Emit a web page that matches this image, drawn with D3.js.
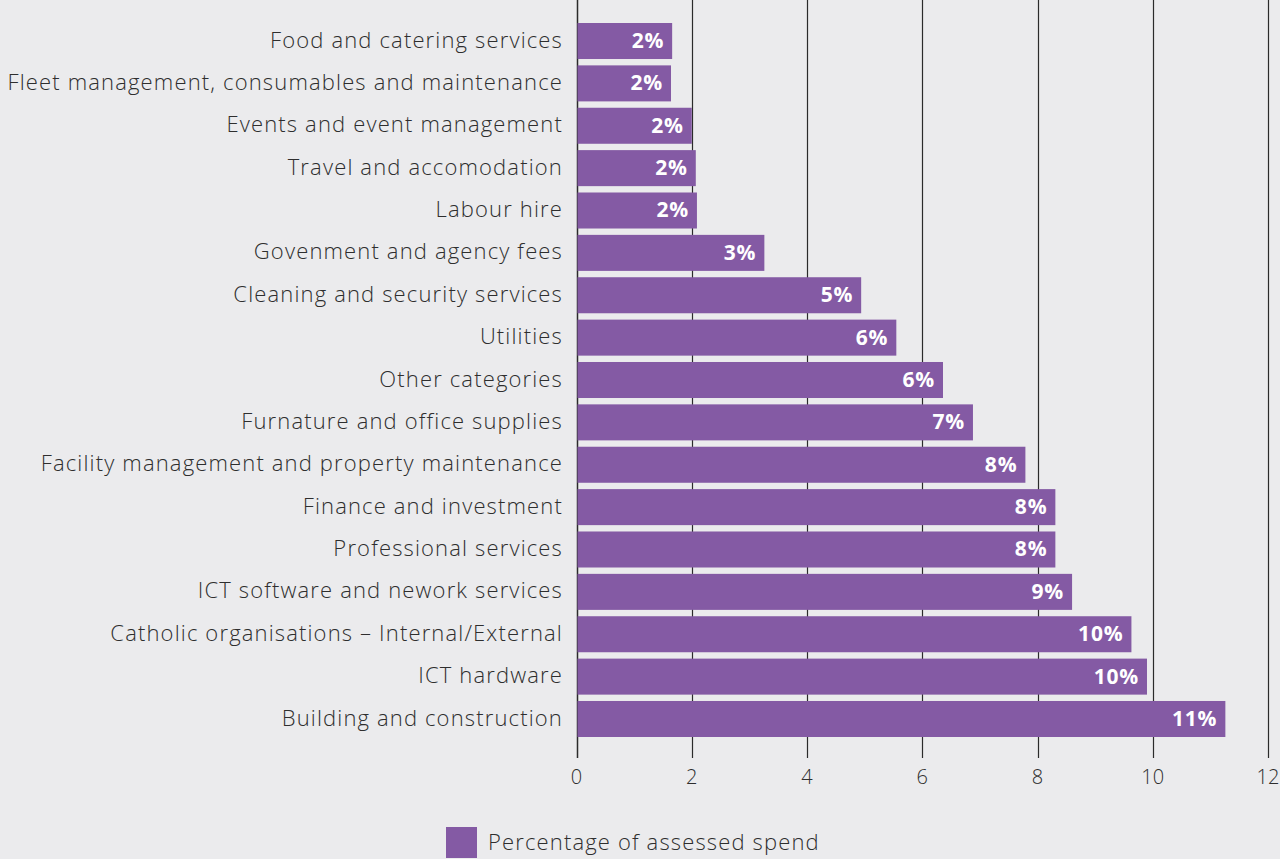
<!DOCTYPE html>
<html><head><meta charset="utf-8">
<script src="https://cdn.jsdelivr.net/npm/d3@7"></script>
<style>
html,body{margin:0;padding:0;background:#ebebed;}
svg{display:block;font-family:"Open Sans",Lato,sans-serif;}
</style></head>
<body>
<svg id="chart" width="1280" height="859"></svg>
<script>
const categories = [
  "Food and catering services",
  "Fleet management, consumables and maintenance",
  "Events and event management",
  "Travel and accomodation",
  "Labour hire",
  "Govenment and agency fees",
  "Cleaning and security services",
  "Utilities",
  "Other categories",
  "Furnature and office supplies",
  "Facility management and property maintenance",
  "Finance and investment",
  "Professional services",
  "ICT software and nework services",
  "Catholic organisations – Internal/External",
  "ICT hardware",
  "Building and construction"
];
const values = [1.66, 1.64, 2.0, 2.07, 2.09, 3.26, 4.94, 5.55, 6.36, 6.88, 7.79, 8.31, 8.31, 8.6, 9.63, 9.9, 11.26];
const valueLabels = ["2%","2%","2%","2%","2%","3%","5%","6%","6%","7%","8%","8%","8%","9%","10%","10%","11%"];
const xTicks = [0, 2, 4, 6, 8, 10, 12];
const seriesName = "Percentage of assessed spend";

const svg = d3.select("#chart");
const barColor = "#845aa4";
const textColor = "#2e2e2e";

const x = d3.scaleLinear().domain([0, 12]).range([576.5, 1268]);
const y = d3.scaleBand().domain(categories).range([23, 737]).paddingInner(0.15).paddingOuter(0);

// gridlines
svg.append("g").selectAll("line").data(xTicks).join("line")
  .attr("x1", d => Math.round(x(d)) + 0.5).attr("x2", d => Math.round(x(d)) + 0.5)
  .attr("y1", 0).attr("y2", 758)
  .attr("stroke", "#2b2b2b").attr("stroke-width", d => d === 0 ? 1.5 : 1.2);

// bars
svg.append("g").selectAll("rect").data(categories).join("rect")
  .attr("x", x(0) + 1)
  .attr("y", d => y(d))
  .attr("width", (d, i) => x(values[i]) - x(0) - 1)
  .attr("height", y.bandwidth())
  .attr("fill", barColor);

// value labels
svg.append("g").selectAll("text").data(categories).join("text")
  .attr("x", (d, i) => x(values[i]) - 8)
  .attr("y", d => y(d) + y.bandwidth() / 2)
  .attr("dy", "0.33em")
  .attr("text-anchor", "end")
  .attr("fill", "#ffffff")
  .attr("font-weight", 700)
  .attr("font-size", 21)
  .attr("letter-spacing", 0.8)
  .text((d, i) => valueLabels[i]);

// category labels
svg.append("g").selectAll("text").data(categories).join("text")
  .attr("x", 563)
  .attr("y", d => y(d) + y.bandwidth() / 2)
  .attr("dy", "0.3em")
  .attr("text-anchor", "end")
  .attr("fill", textColor)
  .attr("font-size", 22)
  .attr("font-weight", 300)
  .attr("letter-spacing", 1.15)
  .text(d => d);

// x tick labels
svg.append("g").selectAll("text").data(xTicks).join("text")
  .attr("x", d => x(d))
  .attr("y", 777)
  .attr("dy", "0.35em")
  .attr("text-anchor", "middle")
  .attr("fill", textColor)
  .attr("font-size", 20)
  .attr("font-weight", 300)
  .text(d => d);

// legend
const lg = svg.append("g");
lg.append("rect").attr("x", 446).attr("y", 827).attr("width", 31).attr("height", 31).attr("fill", barColor);
lg.append("text").attr("x", 488).attr("y", 843).attr("dy", "0.33em")
  .attr("fill", textColor).attr("font-size", 22).attr("font-weight", 300)
  .attr("letter-spacing", 1.15).text(seriesName);
</script>
</body></html>
